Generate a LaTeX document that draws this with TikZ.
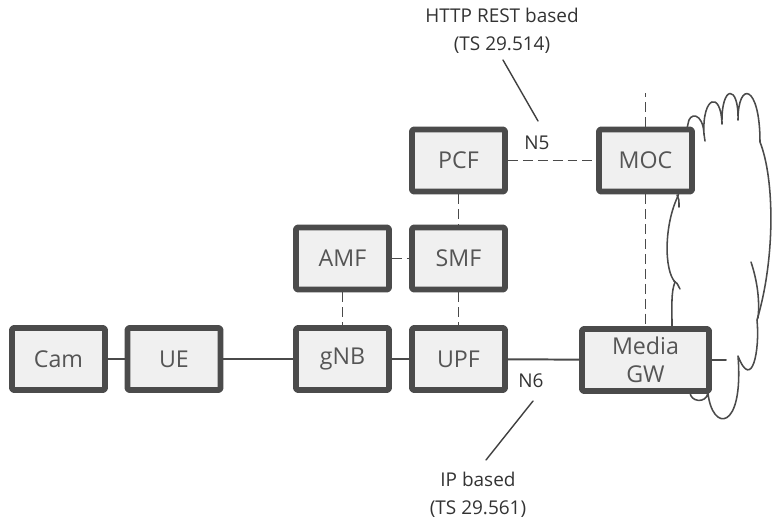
\documentclass[tikz,border=0pt]{standalone}
\usepackage{fontspec}
\setmainfont{Open Sans}
\definecolor{boxline}{HTML}{4B4B4B}
\definecolor{boxfill}{HTML}{F0F0F0}
\definecolor{boxtext}{HTML}{555555}
\definecolor{wire}{HTML}{4A4A4A}
\begin{document}
\begin{tikzpicture}[x=0.025cm,y=-0.025cm,line cap=round,line join=round,
  nf/.style={draw=boxline,fill=boxfill,line width=4.2pt,rounded corners=1.5pt,
    minimum width=2.325cm,minimum height=1.55cm,text=boxtext,align=center,
    font=\fontsize{16.5}{20}\selectfont},
  link/.style={draw=wire,line width=1.4pt},
  ctrl/.style={draw=wire,line width=1.4pt,line cap=butt,dash pattern=on 7pt off 3.6pt},
  lbl/.style={text=black!80,align=center,font=\fontsize{13.5}{20}\selectfont},
  lead/.style={draw=black!75,line width=1pt}]
\useasboundingbox (0,0) rectangle (772,521);
% cloud behind the boxes
\draw[wire,line width=1.1pt]
  (688,124) .. controls (689,112) and (703,112) .. (704,134)
  .. controls (702,96) and (721,90) .. (722,124)
  .. controls (721,84) and (739,84) .. (738,120)
  .. controls (738,80) and (760,84) .. (760,142)
  .. controls (775,180) and (775,260) .. (757,320)
  .. controls (760,350) and (752,392) .. (738,356)
  .. controls (744,432) and (712,432) .. (708,393)
  .. controls (706,404) and (690,402) .. (690,392)
  .. controls (676,380) and (671,350) .. (672,325)
  .. controls (672,305) and (671,292) .. (675,282)
  .. controls (664,270) and (664,225) .. (678,196)
  .. controls (684,170) and (684,140) .. (688,124);
\draw[wire,line width=1.1pt] (704,134) -- (705,141);
\draw[wire,line width=1.1pt] (677,195) .. controls (679,199) .. (679,207);
\draw[wire,line width=1.1pt] (674,281) .. controls (677,283) .. (680,289);
\draw[wire,line width=1.1pt] (751,262) .. controls (757,280) and (760,300) .. (758,318);
% network functions
\foreach \n/\t/\x/\y in {cam/Cam/58.5/359, ue/UE/174/359, gnb/gNB/342.5/359,
    upf/UPF/458.5/359, amf/AMF/342.5/258.5, smf/SMF/458.5/258.5,
    pcf/PCF/458.5/160.5, moc/MOC/645.5/160.5}{
  \node[nf] (\n) at (\x,\y) {\t};
}
\node[nf,minimum width=3.175cm] (mgw) at (645.5,360) {Media\\GW};
\coordinate (mocup) at (645.5,93);
\coordinate (mgwout) at (726,360);
% user plane
\foreach \a/\b in {cam/ue, ue/gnb, gnb/upf, upf/mgw}{
  \draw[link] (\a) -- (\b);
}
\draw[link] (mgw) -- (mgwout);
% control plane
\foreach \a/\b in {pcf/moc, amf/smf, pcf/smf, smf/upf, amf/gnb, moc/mgw, moc/mocup}{
  \draw[ctrl] (\a) -- (\b);
}
% reference points
\node[lbl] (n5) at (537,143) {N5};
\node[lbl] (n6) at (531,381) {N6};
\node[lbl] (rest) at (502,31) {HTTP REST based\\(TS 29.514)};
\node[lbl] (ipb) at (478,494.5) {IP based\\(TS 29.561)};
\coordinate (resttip) at (503,60);
\coordinate (n5tip) at (538,121);
\coordinate (n6tip) at (533,401);
\coordinate (ipbtip) at (486,460);
\draw[lead] (resttip) -- (n5tip);
\draw[lead] (n6tip) -- (ipbtip);
\end{tikzpicture}
\end{document}
